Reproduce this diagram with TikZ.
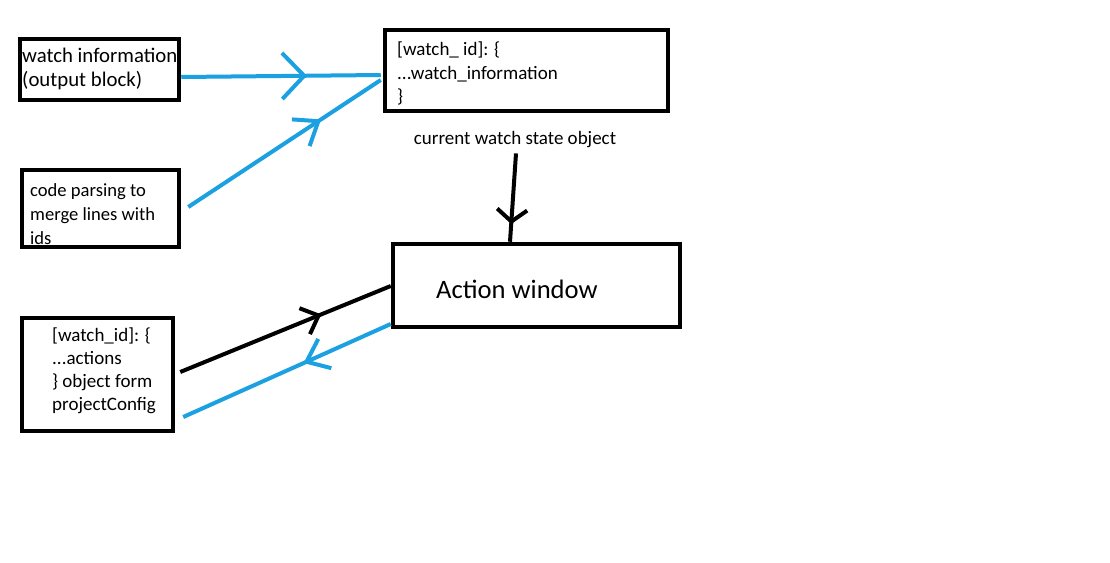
\documentclass[tikz,border=0pt]{standalone}
\usepackage{fontspec}
\setmainfont{Carlito}
\usetikzlibrary{arrows.meta,decorations.markings}
\definecolor{penblue}{RGB}{27,161,226}
\tikzset{
  box/.style={draw=black, line width=4.5pt, inner sep=0pt, rectangle},
  txt/.style={inner sep=0pt, align=left, anchor=west},
  bluepen/.style={draw=penblue, line width=4pt},
  blackpen/.style={draw=black, line width=4pt},
  chev/.style n args={3}{decoration={markings, mark=at position #1 with {\arrow{Straight Barb[length=#2pt,width=#3pt]}}}, postaction=decorate}
}
\begin{document}
\begin{tikzpicture}[x=1pt,y=-1pt]
\useasboundingbox[fill=white] (0,0) rectangle (1110,562);
% boxes
\node[box, minimum width=159pt, minimum height=61pt] (A) at (99.5,69.5) {};
\node[box, minimum width=157pt, minimum height=77pt] (B) at (100.5,208.5) {};
\node[box, minimum width=283pt, minimum height=81pt] (C) at (526.5,70.5) {};
\node[box, minimum width=287pt, minimum height=83pt] (D) at (536.5,285.5) {};
\node[box, minimum width=151pt, minimum height=113pt] (E) at (97.5,374.5) {};
% texts
\node[txt, font=\fontsize{20.8}{24}\selectfont] (tA) at (22,69) {watch information\\(output block)};
\node[txt, font=\fontsize{18.6}{24}\selectfont] (tB) at (30,214) {code parsing to\\merge lines with\\ids};
\node[txt, font=\fontsize{19}{23.5}\selectfont] (tC) at (397,73.5) {[watch\_ id]: \{\\...watch\_information\\\}};
\node[txt, font=\fontsize{26.6}{30}\selectfont] (tD) at (436,289) {Action window};
\node[txt, font=\fontsize{19}{23}\selectfont] (tE) at (52,370.5) {[watch\_id]: \{\\...actions\\\} object form\\projectConfig};
\node[inner sep=0pt, font=\fontsize{19}{22}\selectfont] (lbl) at (515,140) {current watch state object};
% connectors
\draw[bluepen, chev={0.63}{22}{46}] ([yshift=-7.5pt]A.east) -- ([xshift=-2pt,yshift=-4.5pt]C.west);
\draw[bluepen, chev={0.69}{21}{32}] ([xshift=7pt,yshift=1.5pt]B.east) -- ([xshift=-2pt,yshift=-9.5pt]C.west);
\draw[blackpen, chev={0.8}{12}{30}] ([xshift=1pt,yshift=-5pt]lbl.south) -- ([xshift=-26.5pt]D.north);
\draw[blackpen, chev={0.67}{15}{28}] ([xshift=5pt,yshift=2.5pt]E.east) -- ([yshift=-0.5pt]D.west);
\draw[bluepen, chev={0.42}{20}{32}] ([yshift=-38.5pt]D.west) -- ([xshift=8pt,yshift=-42.5pt]E.east);
\end{tikzpicture}
\end{document}
